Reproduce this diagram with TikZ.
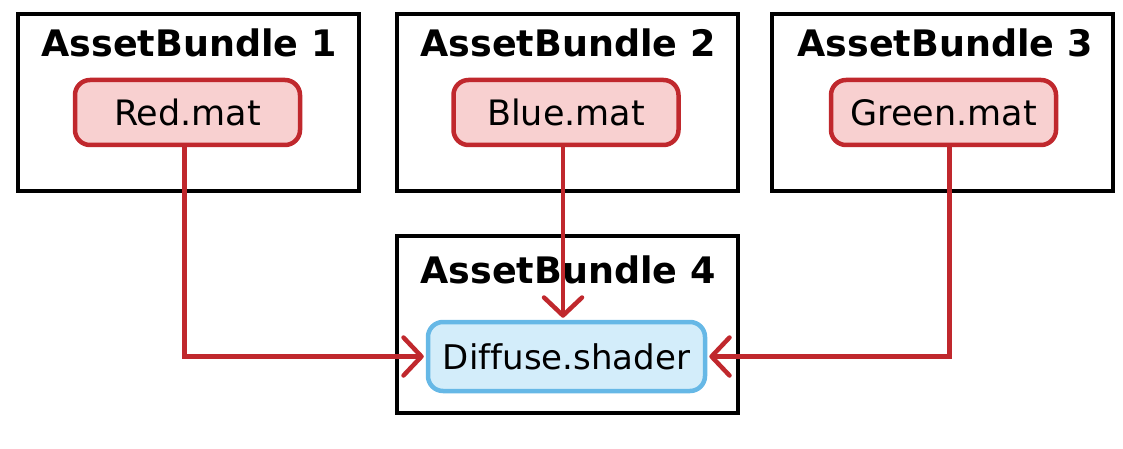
\documentclass[tikz,border=0pt]{standalone}
\usepackage{fontspec}
\setmainfont{DejaVu Sans}[Ligatures=NoCommon]
\usetikzlibrary{arrows.meta}
\definecolor{matfill}{HTML}{F8D0D0}
\definecolor{matdraw}{HTML}{C0282D}
\definecolor{shfill}{HTML}{D3EDFA}
\definecolor{shdraw}{HTML}{66B8E6}
\tikzset{
  bundle/.style={draw=black, line width=3.5pt, minimum width=341pt, minimum height=177pt, inner sep=0pt},
  btitle/.style={anchor=base, font=\fontsize{36.5}{42}\bfseries\selectfont, inner sep=0pt},
  matbox/.style={draw=matdraw, fill=matfill, line width=4.5pt, rounded corners=15pt, minimum width=225pt, minimum height=65pt, inner sep=0pt, font=\fontsize{35}{42}\selectfont},
  shbox/.style={draw=shdraw, fill=shfill, line width=4.5pt, rounded corners=15pt, minimum width=277pt, minimum height=69pt, inner sep=0pt, font=\fontsize{34}{40}\selectfont},
  arr/.style={draw=matdraw, line width=4.5pt, -{Straight Barb[length=18pt,width=38pt,line width=4.5pt,round]}},
}
\begin{document}
\begin{tikzpicture}[x=1pt,y=-1pt]
\useasboundingbox (0,0) rectangle (1123,449);
\node[bundle] (b1) at (188.5,102.5) {};
\node[bundle] (b2) at (567.5,102.5) {};
\node[bundle] (b3) at (942.5,102.5) {};
\node[bundle] (b4) at (567.5,324.5) {};
\node[btitle] (t1) at (189,57) {AssetBundle 1};
\node[btitle] (t2) at (568,57) {AssetBundle 2};
\node[btitle] (t3) at (945,57) {AssetBundle 3};
\node[btitle] (t4) at (568,283) {AssetBundle 4};
\node[matbox] (red) at (187.5,112.5) {Red.mat};
\node[matbox] (blue) at (566,112.5) {Blue.mat};
\node[matbox] (green) at (943.5,112.5) {Green.mat};
\node[shbox] (diff) at (566.5,356.5) {Diffuse.shader};
\draw[arr] ([xshift=-3pt]red.south) |- ([xshift=-2pt]diff.west);
\draw[arr, shorten >=2pt] ([xshift=-3pt]blue.south) -- ([xshift=-3pt]blue.south |- diff.north);
\draw[arr] ([xshift=6pt]green.south) |- ([xshift=2pt]diff.east);
\end{tikzpicture}
\end{document}
